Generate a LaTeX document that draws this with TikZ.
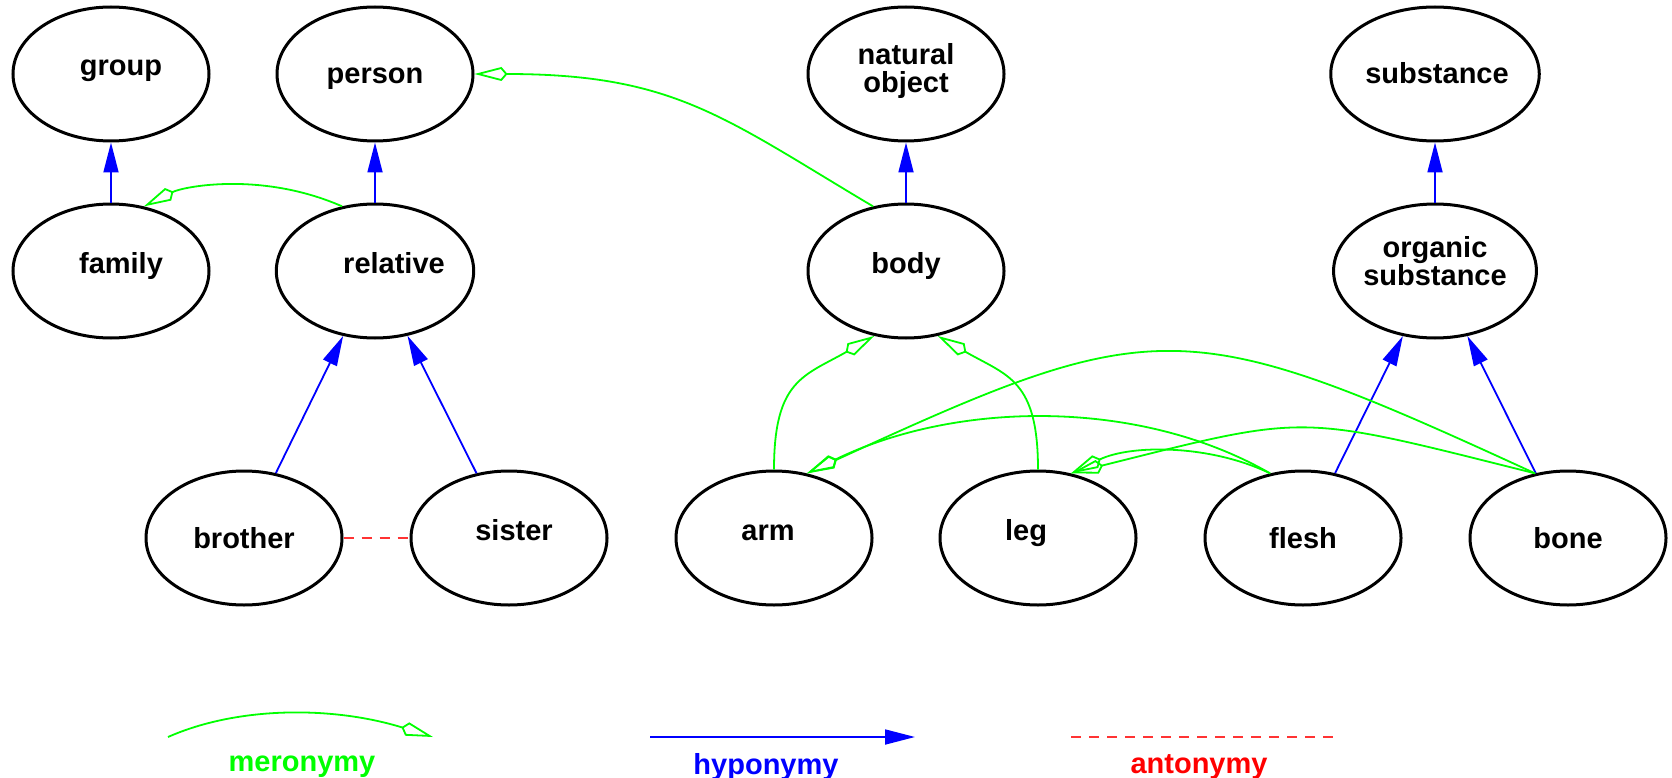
\documentclass[tikz,border=0pt]{standalone}
\usepackage{fontspec}
\setmainfont{Liberation Sans}
\usepackage{tikz}
\usetikzlibrary{arrows.meta,shapes.geometric}

\tikzset{
  concept/.style={ellipse, draw, line width=3pt, minimum width=196pt, minimum height=134pt,
    inner sep=0pt, align=center, font=\fontsize{29}{28}\selectfont\bfseries,
    text height=27pt, text depth=7pt},
  lifted/.style={text depth=23pt},
  twolines/.style={text height=, text depth=},
  hypo/.style={draw=blue, line width=1.8pt, -{Triangle[length=30pt,width=15pt]}},
  mero/.style={draw=green, line width=1.8pt, -{Kite[open,length=33pt,width=14pt,inset=6pt]}},
  anto/.style={draw=red!80, line width=1.5pt, dash pattern=on 10pt off 8pt},
  legendtext/.style={font=\fontsize{29}{30}\selectfont\bfseries}
}

\begin{document}
\begin{tikzpicture}[x=1pt,y=-1pt]
  \useasboundingbox (0,0) rectangle (1672,778);

  % Top row
  \node[concept, lifted] (group) at (111,74) {\hspace*{20pt}group};
  \node[concept] (person) at (375,74) {person};
  \node[concept, twolines, text depth=12pt] (natural) at (906,74) {natural\\object};
  \node[concept] (substance) at (1435,74) {\hspace*{4pt}substance};

  % Middle row
  \node[concept, lifted] (family) at (111,271) {\hspace*{20pt}family};
  \node[concept, lifted] (relative) at (375,271) {\hspace*{38pt}relative};
  \node[concept, lifted] (body) at (906,271) {body};
  \node[concept, twolines, text depth=20pt] (organic) at (1435,271) {organic\\substance};

  % Bottom row
  \node[concept] (brother) at (244,538) {brother};
  \node[concept, lifted] (sister) at (509,538) {\hspace*{10pt}sister};
  \node[concept, lifted] (arm) at (774,538) {arm\hspace*{12pt}};
  \node[concept, lifted] (leg) at (1038,538) {leg\hspace*{24pt}};
  \node[concept] (flesh) at (1303,538) {flesh};
  \node[concept] (bone) at (1568,538) {bone};

  % Hyponymy
  \draw[hypo] (family) -- (group);
  \draw[hypo] (relative) -- (person);
  \draw[hypo] (body) -- (natural);
  \draw[hypo] (organic) -- (substance);
  \draw[hypo] (brother) -- (relative);
  \draw[hypo] (sister) -- (relative);
  \draw[hypo] (flesh) -- (organic);
  \draw[hypo] (bone) -- (organic);

  % Meronymy
  \draw[mero] (relative.117) .. controls +(-80,-35) and +(40,-20) .. (family.63);
  \draw[mero] (body.117) .. controls +(-150,-89) and +(200,0) .. (person.east);
  \draw[mero] (arm.north) .. controls +(0,-90) and +(-70,40) .. (body.-116);
  \draw[mero] (leg.north) .. controls +(0,-90) and +(70,40) .. (body.-64);
  \draw[mero] (flesh.117) .. controls +(-130,-75) and +(150,-73) .. (arm.63);
  \draw[mero] (flesh.117) .. controls +(-60,-29) and +(60,-29) .. (leg.63);
  \draw[mero] (bone.117) .. controls +(-350,-161) and +(350,-161) .. (arm.63);
  \draw[mero] (bone.117) .. controls +(-240,-60) and +(240,-60) .. (leg.63);

  % Antonymy
  \draw[anto] (brother.east) -- (sister.west);

  % Legend
  \coordinate (meroL) at (168,737);
  \coordinate (meroR) at (433,737);
  \draw[mero] (meroL) .. controls +(70,-31) and +(-100,-31) .. (meroR);
  \node[legendtext, text=green] (meroText) at (302,767) {meronymy};

  \coordinate (hypoL) at (650,737);
  \coordinate (hypoR) at (915,737);
  \draw[hypo] (hypoL) -- (hypoR);
  \node[legendtext, text=blue] (hypoText) at (766,767) {hyponymy};

  \coordinate (antoL) at (1071,737);
  \coordinate (antoR) at (1336,737);
  \draw[anto] (antoL) -- (antoR);
  \node[legendtext, text=red] (antoText) at (1199,767) {antonymy};
\end{tikzpicture}
\end{document}
